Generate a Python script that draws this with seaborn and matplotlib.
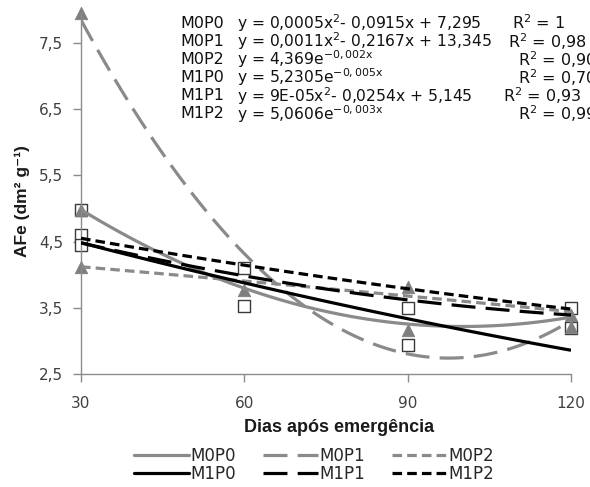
import numpy as np
import pandas as pd
import matplotlib
matplotlib.use("Agg")
import matplotlib.pyplot as plt
from matplotlib.lines import Line2D
import seaborn as sns

# ---------------- data ----------------
days = [30, 60, 90, 120]
series_names = ["M0P0", "M0P1", "M0P2", "M1P0", "M1P1", "M1P2"]
# trend-line readings (dm2 g-1) at each day
trend_M0P0 = [4.98, 3.80, 3.25, 3.36]
trend_M0P1 = [7.85, 4.30, 2.82, 3.30]
trend_M0P2 = [4.12, 3.90, 3.68, 3.44]
trend_M1P0 = [4.48, 3.88, 3.33, 2.86]
trend_M1P1 = [4.48, 3.98, 3.62, 3.39]
trend_M1P2 = [4.55, 4.14, 3.79, 3.48]
# observed points
tri_days = [30, 30, 30, 60, 90, 90, 120, 120]
tri_vals = [7.95, 4.98, 4.12, 3.77, 3.81, 3.16, 3.39, 3.21]
sq_days = [30, 30, 30, 60, 60, 90, 90, 120, 120]
sq_vals = [4.98, 4.60, 4.45, 4.10, 3.53, 3.50, 2.94, 3.50, 3.20]
y_ticks = [2.5, 3.5, 4.5, 5.5, 6.5, 7.5]
y_ticklabels = ["2,5", "3,5", "4,5", "5,5", "6,5", "7,5"]

eq_labels = ["M0P0", "M0P1", "M0P2", "M1P0", "M1P1", "M1P2"]
eq_texts = [
    r"y = 0,0005x$\mathregular{^{2}}$- 0,0915x + 7,295",
    r"y = 0,0011x$\mathregular{^{2}}$- 0,2167x + 13,345",
    r"y = 4,369e$\mathregular{^{-0,002x}}$",
    r"y = 5,2305e$\mathregular{^{-0,005x}}$",
    r"y = 9E-05x$\mathregular{^{2}}$- 0,0254x + 5,145",
    r"y = 5,0606e$\mathregular{^{-0,003x}}$",
]
r2_texts = [r"R$\mathregular{^{2}}$ = 1", r"R$\mathregular{^{2}}$ = 0,98",
            r"R$\mathregular{^{2}}$ = 0,90", r"R$\mathregular{^{2}}$ = 0,70",
            r"R$\mathregular{^{2}}$ = 0,93", r"R$\mathregular{^{2}}$ = 0,99"]

# ---------------- style ----------------
sns.set_style("white")
plt.rcParams["font.family"] = ["DejaVu Sans"]
plt.rcParams["mathtext.fontset"] = "dejavusans"

W, H = 590, 487
fig = plt.figure(figsize=(W / 100, H / 100), dpi=100)
ax = fig.add_axes([81 / W, 1 - 374 / H, (571 - 81) / W, (374 - 13) / H])

gray = "#8a8a8a"
styles = {
    "M0P0": dict(color=gray, ls="-"),
    "M0P1": dict(color=gray, ls=(0, (7.5, 3.2))),
    "M0P2": dict(color=gray, ls=(0, (3.0, 1.6))),
    "M1P0": dict(color="black", ls="-"),
    "M1P1": dict(color="black", ls=(0, (7.5, 3.2))),
    "M1P2": dict(color="black", ls=(0, (3.0, 1.6))),
}
trends = dict(zip(series_names, [trend_M0P0, trend_M0P1, trend_M0P2,
                                 trend_M1P0, trend_M1P1, trend_M1P2]))

# markers (below trend lines)
sns.scatterplot(x=sq_days, y=sq_vals, marker="s", s=85, facecolor="white",
                edgecolor="#3a3a3a", linewidth=1.0, ax=ax, zorder=2, clip_on=False)
sns.scatterplot(x=tri_days, y=tri_vals, marker="^", s=80, color="#7f7f7f",
                edgecolor="#7f7f7f", linewidth=0.6, ax=ax, zorder=2.5, clip_on=False)

lw = 2.3
for name in series_names:
    st = styles[name]
    sns.regplot(x=days, y=trends[name], order=2, ci=None, scatter=False, ax=ax,
                line_kws=dict(color=st["color"], linestyle=st["ls"], linewidth=lw,
                              zorder=3, solid_capstyle="butt", dash_capstyle="butt"))

ax.set_xlim(30, 120)
ax.set_ylim(2.5, 7.95)
ax.set_xticks(days)
ax.set_xticklabels([str(d) for d in days], fontsize=11, color="#404040")
ax.set_yticks(y_ticks)
ax.set_yticklabels(y_ticklabels, fontsize=11, color="#404040")
for side in ["top", "right"]:
    ax.spines[side].set_visible(False)
for side in ["left", "bottom"]:
    ax.spines[side].set_color("#8c8c8c")
    ax.spines[side].set_linewidth(1.0)
ax.tick_params(axis="both", direction="out", length=6, width=1.0, color="#8c8c8c",
               left=True, bottom=True)
ax.tick_params(axis="x", pad=10)
ax.tick_params(axis="y", pad=7)
ax.set_xlabel("")
ax.set_ylabel("")

fig.text(22 / W, 1 - 201 / H, "AFe (dm² g⁻¹)", rotation=90, fontsize=12.5,
         fontweight="bold", ha="center", va="center", color="#1a1a1a",
         family=["Liberation Sans", "DejaVu Sans"])
fig.text(339 / W, 1 - 427 / H, "Dias após emergência", fontsize=13,
         fontweight="bold", ha="center", va="center", color="#1a1a1a",
         family=["Liberation Sans", "DejaVu Sans"])

# equations
r2_x = [512, 508, 518, 518, 503, 518]
for i in range(6):
    yy = 1 - (23 + 18.2 * i) / H
    fig.text(180 / W, yy, eq_labels[i], fontsize=11.5, va="center", color="#111111")
    fig.text(237 / W, yy, eq_texts[i], fontsize=11.2, va="center", color="#111111")
    fig.text(r2_x[i] / W, yy, r2_texts[i], fontsize=11.5, va="center", color="#111111")

# legend (column-major order for 3 columns)
order = ["M0P0", "M1P0", "M0P1", "M1P1", "M0P2", "M1P2"]
handles = [Line2D([0], [0], color=styles[n]["color"], linestyle=styles[n]["ls"],
                  linewidth=lw) for n in order]
fig.legend(handles, order, ncol=3, loc="center", bbox_to_anchor=(314 / W, 1 - 465 / H),
           frameon=False, fontsize=12, handlelength=3.3, handletextpad=0.1,
           columnspacing=1.6, labelspacing=0.0, borderpad=0)

fig.savefig("out.png", dpi=100)
